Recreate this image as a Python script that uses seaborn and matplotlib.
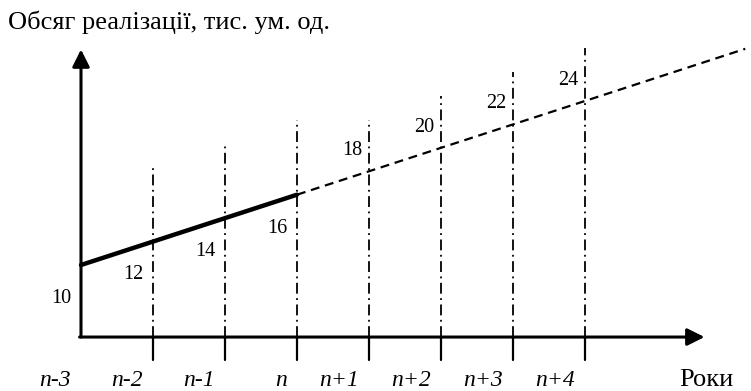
import matplotlib
matplotlib.use("Agg")
import matplotlib.pyplot as plt
import seaborn as sns
import pandas as pd

# дані
years = ['n-3', 'n-2', 'n-1', 'n', 'n+1', 'n+2', 'n+3', 'n+4']
sales = [10, 12, 14, 16, 18, 20, 22, 24]
n_actual = 4  # фактичні роки: n-3 ... n
guide_top = [18.3, 20.3, 22.4, 22.4, 24.4, 26.5, 28.5]  # верх допоміжних ліній n-2 ... n+4

sns.set_theme(style='white')
plt.rcParams['font.family'] = ['Liberation Serif', 'DejaVu Serif']
plt.rcParams['text.color'] = 'black'

fig = plt.figure(figsize=(7.51, 3.91), dpi=100)
ax = fig.add_axes([0, 0, 1, 1])
ax.set_xlim(-1.125, 9.306)
ax.set_ylim(-0.756, 32.62)
ax.set_axis_off()

x = list(range(len(years)))
base = 3.85      # рівень осі абсцис
tick_low = 1.89  # нижній край рисок

# осі зі стрілками
arrow = dict(arrowstyle='-|>', lw=2.2, color='black', mutation_scale=26,
             shrinkA=0, shrinkB=0)
ax.annotate('', xy=(0, 28.4), xytext=(0, base), arrowprops=arrow)
ax.annotate('', xy=(8.66, base), xytext=(-0.02, base), arrowprops=arrow)

# допоміжні вертикальні лінії і риски
for xi, top in zip(x[1:], guide_top):
    ax.plot([xi, xi], [base, top], color='black', lw=1.3,
            linestyle=(0, (6, 2.5, 1, 2.5)))
    ax.plot([xi, xi], [tick_low, base], color='black', lw=1.6)

# фактичні дані
hist = pd.DataFrame({'x': x[:n_actual], 'y': sales[:n_actual]})
sns.lineplot(data=hist, x='x', y='y', color='black', lw=3.2, ax=ax)

# прогноз (продовження тренду до краю)
slope = (sales[-1] - sales[n_actual - 1]) / (x[-1] - x[n_actual - 1])
x_end = ax.get_xlim()[1] - 0.08
fc_x = x[n_actual - 1:] + [x_end]
fc_y = sales[n_actual - 1:] + [sales[-1] + slope * (x_end - x[-1])]
fc = pd.DataFrame({'x': fc_x, 'y': fc_y})
sns.lineplot(data=fc, x='x', y='y', color='black', lw=1.6,
             linestyle=(0, (4, 2.6)), ax=ax)

# підписи значень
for i, (xi, v) in enumerate(zip(x, sales)):
    off = (-14, -24) if i < n_actual else (-12, 15)
    ax.annotate(str(v), xy=(xi, v), xytext=off, textcoords='offset points',
                ha='center', va='center', fontsize=14.5, color='black')

# підписи років
for xi, lab in zip(x, years):
    ax.text(xi - 0.14, -0.33, lab, ha='right', va='baseline',
            fontsize=17, fontstyle='italic', color='black')

ax.text(9.06, -0.33, 'Роки', ha='right', va='baseline', fontsize=19,
        color='black')
fig.text(8 / 751, 1 - 29 / 391, 'Обсяг реалізації, тис. ум. од.',
         ha='left', va='baseline', fontsize=19, color='black')

plt.savefig('out.png', dpi=100)
